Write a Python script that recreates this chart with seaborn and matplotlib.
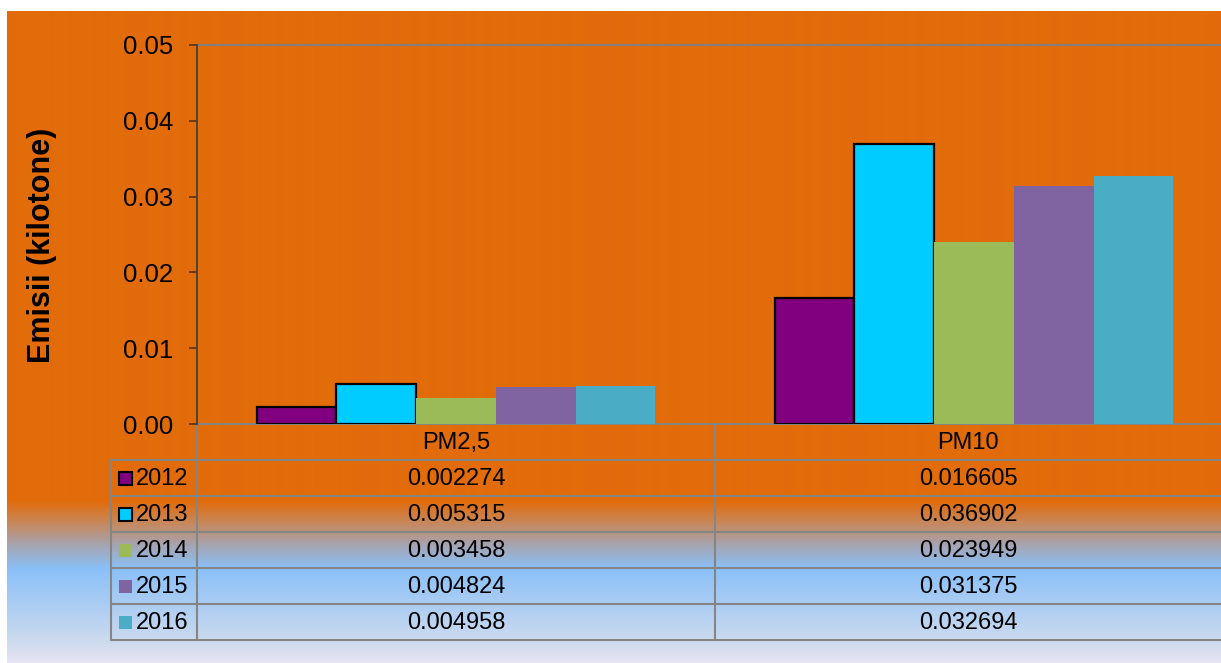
import numpy as np
import pandas as pd
import seaborn as sns
import matplotlib.pyplot as plt
from matplotlib.patches import Rectangle

pollutants = ['PM2,5', 'PM10']
years = ['2012', '2013', '2014', '2015', '2016']
pm25 = [0.002274, 0.005315, 0.003458, 0.004824, 0.004958]
pm10 = [0.016605, 0.036902, 0.023949, 0.031375, 0.032694]
colors = ['#800080', '#00CCFF', '#9BBB59', '#8064A2', '#4BACC6']
outlined = ['2012', '2013']

df = pd.DataFrame({
    'pollutant': [pollutants[0]] * len(years) + [pollutants[1]] * len(years),
    'year': years * 2,
    'value': pm25 + pm10,
})

sns.set_theme(style='white')
plt.rcParams['font.family'] = ['Liberation Sans', 'DejaVu Sans']
plt.rcParams['text.color'] = 'black'
plt.rcParams['axes.labelcolor'] = 'black'
plt.rcParams['ytick.labelcolor'] = 'black'

W, H = 1221, 663
fig = plt.figure(figsize=(W / 100, H / 100), dpi=100)
fig.patch.set_facecolor('white')

# background gradient (orange -> blue -> lavender), pixel coordinates
bg = fig.add_axes([0, 0, 1, 1])
bg.set_xlim(0, W)
bg.set_ylim(H, 0)
bg.axis('off')
stops_y = [11, 500, 522, 545, 568, 640, 663]
stops_c = [(226, 107, 10), (226, 107, 10), (200, 135, 90), (165, 165, 178),
           (138, 192, 248), (204, 218, 238), (232, 228, 244)]
ys = np.arange(11, H)
grad = np.zeros((len(ys), 1, 3))
for k in range(3):
    grad[:, 0, k] = np.interp(ys, stops_y, [c[k] for c in stops_c]) / 255
bg.imshow(grad, extent=[7, W, H, 11], aspect='auto', interpolation='bilinear')

# bar axes
x0, x1, ytop, ybot = 197, W, 45, 424
ax = fig.add_axes([x0 / W, (H - ybot) / H, (x1 - x0) / W, (ybot - ytop) / H])
ax.patch.set_alpha(0)
sns.barplot(data=df, x='pollutant', y='value', hue='year', palette=colors,
            width=0.77, saturation=1, legend=False, ax=ax)
for yr, cont in zip(years, ax.containers):
    for bar in cont:
        if yr in outlined:
            bar.set_edgecolor('black')
            bar.set_linewidth(1.6)
        else:
            bar.set_linewidth(0)
ax.set_ylim(0, 0.05)
ax.set_xlim(-0.5, 1.477)
ax.set_yticks([0, 0.01, 0.02, 0.03, 0.04, 0.05])
ax.set_yticklabels([f'{v:.2f}' for v in ax.get_yticks()], fontsize=18.5)
ax.set_xticks([])
ax.set_xlabel('')
ax.set_ylabel('Emisii (kilotone)', fontsize=22, fontweight='bold')
ax.yaxis.set_label_coords(-0.137, 0.47)
ax.tick_params(axis='y', left=True, length=6, width=1.2, color='#5a3010', pad=11)
for s in ['top', 'right', 'bottom']:
    ax.spines[s].set_visible(False)
ax.spines['left'].set_color('#404040')
ax.spines['left'].set_linewidth(1.3)
ax.axhline(0.05, color='#808080', lw=1.5, clip_on=False)

# data table below the axis
grid = '#858585'
row_h = 36
col_x = [111, 197, 715, W]
bg.plot([197, W], [424, 424], color=grid, lw=1.5)
for i in range(len(years) + 1):
    yy = 460 + i * row_h
    bg.plot([111, W], [yy, yy], color=grid, lw=1.5)
for xx in col_x[:3]:
    top = 460 if xx == 111 else 424
    bg.plot([xx, xx], [top, 640], color=grid, lw=1.5)
for j, p in enumerate(pollutants):
    cx = (col_x[j + 1] + col_x[j + 2]) / 2
    bg.text(cx, 443, p, ha='center', va='center', fontsize=17)
for i, yr in enumerate(years):
    cy = 479 + i * row_h
    ec = 'black' if yr in outlined else 'none'
    bg.add_patch(Rectangle((119, cy - 7), 13, 13, facecolor=colors[i],
                           edgecolor=ec, lw=1.5))
    bg.text(136, cy, yr, ha='left', va='center', fontsize=17)
    for j, vals in enumerate([pm25, pm10]):
        cx = (col_x[j + 1] + col_x[j + 2]) / 2
        bg.text(cx, cy, f'{vals[i]:.6f}', ha='center', va='center', fontsize=17)

fig.savefig('out.png', dpi=100)
